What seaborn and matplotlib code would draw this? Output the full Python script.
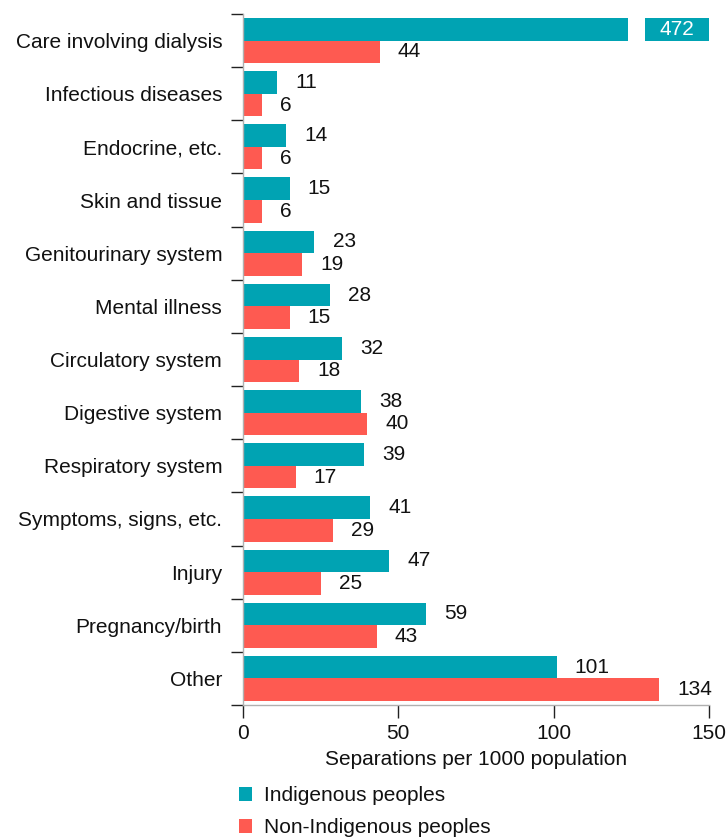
import numpy as np
import pandas as pd
import matplotlib
matplotlib.use("Agg")
import matplotlib.pyplot as plt
from matplotlib.patches import Patch, Rectangle
from matplotlib.ticker import FixedLocator
import seaborn as sns

categories = [
    "Care involving dialysis", "Infectious diseases", "Endocrine, etc.",
    "Skin and tissue", "Genitourinary system", "Mental illness",
    "Circulatory system", "Digestive system", "Respiratory system",
    "Symptoms, signs, etc.", "Injury", "Pregnancy/birth", "Other",
]
indigenous = [472, 11, 14, 15, 23, 28, 32, 38, 39, 41, 47, 59, 101]
non_indigenous = [44, 6, 6, 6, 19, 15, 18, 40, 17, 29, 25, 43, 134]
groups = ["Indigenous peoples", "Non-Indigenous peoples"]
x_ticks = [0, 50, 100, 150]

TEAL = "#00a3b3"
CORAL = "#fe5a51"
XMAX = 150
FS = 15

df = pd.DataFrame({
    "category": categories * 2,
    "group": [groups[0]] * len(categories) + [groups[1]] * len(categories),
    "value": indigenous + non_indigenous,
})

sns.set_theme(style="white")
plt.rcParams["font.family"] = ["Liberation Sans", "DejaVu Sans"]

fig = plt.figure(figsize=(7.28, 8.38), dpi=100)
ax = fig.add_axes([243 / 728, 1 - 705 / 838, (709 - 243) / 728, (705 - 14) / 838])

sns.barplot(data=df, y="category", x="value", hue="group", order=categories,
            hue_order=groups, palette=[TEAL, CORAL], saturation=1, width=0.85,
            linewidth=0, orient="h", legend=False, ax=ax)

ax.set_xlim(0, XMAX)
ax.set_ylim(len(categories) - 0.5, -0.5)

# value labels; bars beyond the axis get a break and an inset label
for container, vals in zip(ax.containers, [indigenous, non_indigenous]):
    for bar, v in zip(container, vals):
        y = bar.get_y() + bar.get_height() / 2
        if v > XMAX:
            gap_lo, gap_hi = 124, 129.5
            ax.add_patch(Rectangle((gap_lo, bar.get_y() - 0.01), gap_hi - gap_lo,
                                   bar.get_height() + 0.02, facecolor="white",
                                   edgecolor="none", zorder=5))
            ax.text((gap_hi + XMAX) / 2, y, f"{v}", ha="center", va="center",
                    color="white", fontsize=FS, zorder=6)
        else:
            ax.annotate(f"{v}", (v, y), xytext=(13, 0), textcoords="offset points",
                        ha="left", va="center", fontsize=FS, color="#111111")

# axes styling
for s in ["top", "right"]:
    ax.spines[s].set_visible(False)
for s in ["left", "bottom"]:
    ax.spines[s].set_color("#b0b0b0")
    ax.spines[s].set_linewidth(1.0)

ax.xaxis.set_major_locator(FixedLocator(x_ticks))
ax.tick_params(axis="x", which="major", direction="out", length=9, width=1,
               color="#222222", labelsize=FS, pad=5, bottom=True,
               labelcolor="#111111")
ax.tick_params(axis="y", which="major", length=0, labelsize=FS, pad=15,
               labelcolor="#111111")
ax.yaxis.set_minor_locator(FixedLocator(np.arange(-0.5, len(categories), 1.0)))
ax.tick_params(axis="y", which="minor", direction="out", length=9, width=1,
               color="#222222", left=True)
ax.set_ylabel("")
ax.set_xlabel("Separations per 1000 population", fontsize=FS, labelpad=5,
              color="#111111")

handles = [Patch(facecolor=TEAL, edgecolor="none"),
           Patch(facecolor=CORAL, edgecolor="none")]
fig.legend(handles, groups, loc="upper left", bbox_to_anchor=(231 / 728, 1 - 778 / 838),
           frameon=False, fontsize=FS, handlelength=0.62, handleheight=0.62,
           handletextpad=0.55, labelspacing=0.62, borderaxespad=0,
           labelcolor="#111111")

fig.savefig("out.png", dpi=100)
